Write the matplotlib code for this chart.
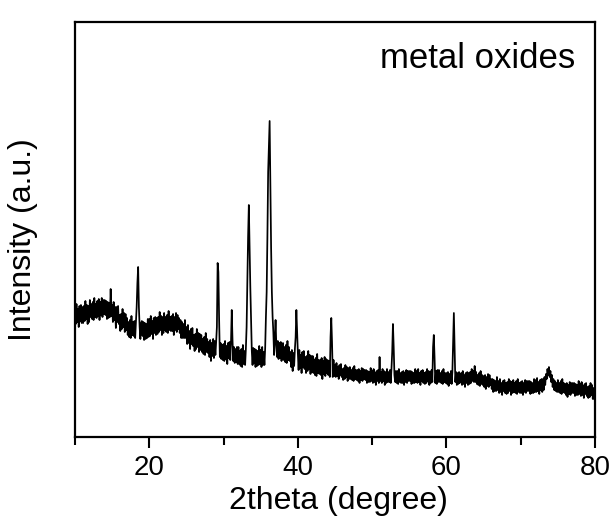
import numpy as np
import matplotlib
matplotlib.use("Agg")
import matplotlib.pyplot as plt
from matplotlib.ticker import MultipleLocator

plt.rcParams['font.family'] = ['Liberation Sans', 'DejaVu Sans']

# 2theta grid: 10.0 to 80.0 in 0.1 degree steps
two_theta = np.round(np.arange(10.0, 80.0001, 0.1), 1)

# intensity (a.u.), one row per degree
intensity = [
    130, 113, 133, 115, 128, 110, 131, 116, 132, 114,   # 10
    130, 114, 131, 116, 136, 118, 132, 113, 131, 115,   # 11
    137, 120, 133, 118, 135, 117, 139, 120, 133, 119,   # 12
    136, 121, 138, 117, 135, 122, 139, 120, 137, 123,   # 13
    137, 122, 136, 118, 135, 119, 134, 120, 148, 121,   # 14
    132, 115, 135, 117, 130, 109, 130, 115, 131, 113,   # 15
    122, 106, 123, 108, 128, 110, 124, 105, 123, 107,   # 16
    119, 102, 115, 100, 117, 99, 121, 102, 115, 101,    # 17
    116, 99, 115, 130, 154, 170, 130, 110, 98, 114,     # 18
    116, 101, 115, 97, 114, 98, 113, 99, 118, 100,      # 19
    118, 101, 121, 103, 116, 98, 119, 104, 120, 102,    # 20
    119, 103, 120, 105, 125, 107, 121, 102, 120, 104,   # 21
    124, 107, 120, 105, 122, 104, 126, 107, 120, 106,   # 22
    121, 106, 123, 102, 120, 107, 124, 105, 122, 108,   # 23
    119, 104, 117, 99, 115, 99, 113, 99, 117, 99,       # 24
    110, 93, 112, 94, 106, 88, 108, 93, 109, 91,        # 25
    102, 86, 103, 88, 108, 90, 104, 85, 103, 87,        # 26
    102, 85, 98, 83, 100, 82, 104, 85, 98, 84,          # 27
    95, 80, 97, 76, 94, 81, 98, 79, 96, 82,             # 28
    95, 110, 174, 165, 118, 80, 94, 78, 92, 77,         # 29
    93, 76, 96, 78, 91, 73, 94, 79, 95, 77,             # 30
    95, 127, 98, 76, 90, 74, 88, 75, 90, 73,            # 31
    90, 73, 86, 71, 88, 70, 92, 73, 86, 72,             # 32
    88, 110, 154, 200, 232, 189, 150, 120, 86, 72,      # 33
    89, 74, 88, 70, 87, 71, 86, 72, 91, 73,             # 34
    87, 70, 90, 72, 85, 72, 89, 120, 145, 200,          # 35
    265, 290, 316, 250, 189, 145, 120, 105, 82, 98,     # 36
    117, 92, 80, 96, 78, 94, 79, 95, 76, 92,            # 37
    94, 77, 90, 75, 92, 74, 96, 77, 90, 76,             # 38
    85, 70, 87, 66, 84, 71, 88, 100, 127, 105,          # 39
    84, 67, 87, 69, 82, 64, 85, 70, 86, 68,             # 40
    80, 64, 81, 66, 86, 68, 82, 63, 81, 65,             # 41
    81, 64, 77, 62, 79, 61, 83, 64, 77, 63,             # 42
    77, 62, 79, 58, 76, 63, 80, 61, 78, 64,             # 43
    77, 62, 76, 60, 100, 119, 95, 60, 77, 61,           # 44
    72, 60, 74, 61, 70, 58, 72, 62, 73, 60,             # 45
    68, 57, 69, 58, 72, 60, 70, 56, 69, 58,             # 46
    70, 58, 67, 57, 69, 56, 71, 58, 67, 57,             # 47
    67, 56, 68, 54, 66, 57, 69, 56, 68, 58,             # 48
    67, 57, 67, 54, 66, 55, 65, 55, 69, 56,             # 49
    66, 54, 68, 55, 64, 52, 66, 56, 67, 54,             # 50
    80, 56, 65, 54, 68, 56, 66, 52, 65, 54,             # 51
    68, 55, 65, 55, 67, 54, 68, 85, 113, 90,            # 52
    62, 55, 66, 54, 66, 53, 68, 55, 64, 54,             # 53
    65, 54, 66, 52, 64, 55, 67, 54, 66, 56,             # 54
    66, 56, 66, 53, 65, 54, 64, 54, 68, 55,             # 55
    66, 54, 68, 55, 64, 52, 66, 56, 67, 54,             # 56
    64, 53, 65, 54, 68, 56, 66, 52, 65, 54,             # 57
    67, 55, 90, 102, 80, 54, 66, 53, 67, 55,            # 58
    67, 55, 64, 54, 66, 53, 68, 55, 64, 54,             # 59
    64, 53, 65, 51, 63, 54, 66, 53, 65, 95,             # 60
    124, 90, 55, 65, 52, 64, 53, 65, 54, 63,            # 61
    64, 52, 66, 53, 62, 50, 64, 54, 65, 52,             # 62
    64, 53, 65, 54, 68, 56, 66, 55, 71, 55,             # 63
    65, 53, 62, 52, 64, 51, 66, 53, 62, 52,             # 64
    61, 50, 62, 48, 60, 51, 63, 50, 62, 52,             # 65
    58, 48, 58, 45, 57, 46, 56, 46, 60, 47,             # 66
    56, 44, 58, 45, 54, 42, 56, 46, 57, 44,             # 67
    54, 43, 55, 44, 58, 46, 56, 42, 55, 44,             # 68
    57, 45, 54, 44, 56, 43, 58, 45, 54, 44,             # 69
    55, 44, 56, 42, 54, 45, 57, 44, 56, 46,             # 70
    56, 46, 56, 43, 55, 44, 54, 44, 58, 45,             # 71
    57, 45, 59, 46, 55, 43, 57, 47, 58, 45,             # 72
    58, 47, 60, 52, 63, 58, 68, 62, 70, 60,             # 73
    66, 55, 62, 50, 58, 47, 56, 46, 54, 45,             # 74
    57, 45, 54, 44, 56, 43, 58, 45, 54, 44,             # 75
    53, 42, 54, 40, 52, 43, 55, 42, 54, 44,             # 76
    54, 44, 54, 41, 53, 42, 52, 42, 56, 43,             # 77
    53, 41, 55, 42, 51, 39, 53, 43, 54, 41,             # 78
    50, 39, 51, 40, 54, 42, 52, 38, 49, 38,             # 79
    37,                                                 # 80
]

fig = plt.figure(figsize=(6.12, 5.21), dpi=100)
ax = fig.add_axes([75 / 612, 84 / 521, 520 / 612, 415 / 521])

ax.plot(two_theta, intensity, color='black', lw=1.25)

ax.set_xlim(10, 80)
ax.set_ylim(0, 415)
ax.xaxis.set_major_locator(MultipleLocator(20))
ax.xaxis.set_minor_locator(MultipleLocator(10))
ax.tick_params(axis='x', which='major', direction='out', length=8, width=1.5,
               labelsize=20, pad=5)
ax.tick_params(axis='x', which='minor', direction='out', length=6, width=1.5)
ax.set_yticks([])
for s in ax.spines.values():
    s.set_linewidth(1.6)

ax.set_xlabel('2theta (degree)', fontsize=23)
ax.xaxis.set_label_coords(0.506, -0.118)
ax.set_ylabel('Intensity (a.u.)', fontsize=23)
ax.yaxis.set_label_coords(-0.072, 0.475)
ax.text(0.962, 0.913, 'metal oxides', transform=ax.transAxes,
        ha='right', va='center', fontsize=25)

fig.savefig('out.png', dpi=100)
